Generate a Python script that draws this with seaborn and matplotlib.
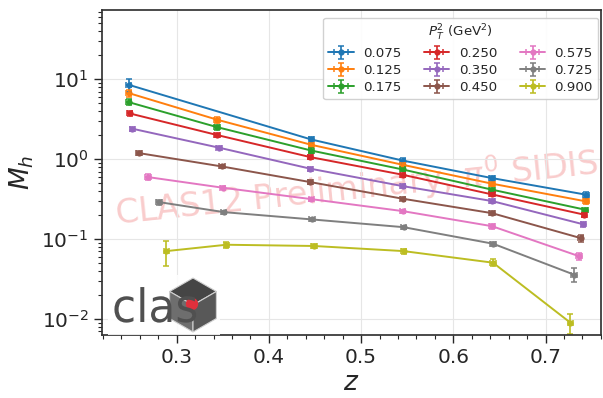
import numpy as np
import pandas as pd
import matplotlib
matplotlib.use("Agg")
import matplotlib.pyplot as plt
import seaborn as sns
from matplotlib.ticker import AutoMinorLocator
from matplotlib.container import ErrorbarContainer
from matplotlib.patches import Polygon, Circle, PathPatch
from matplotlib.textpath import TextPath
from matplotlib.font_manager import FontProperties
from matplotlib.transforms import Affine2D

# P_T^2 bins (GeV^2)
pt2_bins = ["0.075", "0.125", "0.175", "0.250", "0.350", "0.450", "0.575", "0.725", "0.900"]

# z bin centres for each P_T^2 bin
z_075 = [0.248, 0.446, 0.545, 0.642, 0.744]
z_125 = [0.248, 0.344, 0.446, 0.545, 0.642, 0.744]
z_175 = [0.248, 0.344, 0.446, 0.545, 0.642, 0.743]
z_250 = [0.249, 0.344, 0.445, 0.545, 0.642, 0.742]
z_350 = [0.252, 0.346, 0.445, 0.545, 0.642, 0.741]
z_450 = [0.259, 0.349, 0.445, 0.545, 0.642, 0.738]
z_575 = [0.269, 0.350, 0.446, 0.545, 0.642, 0.736]
z_725 = [0.281, 0.351, 0.447, 0.546, 0.643, 0.731]
z_900 = [0.289, 0.354, 0.449, 0.546, 0.643, 0.727]

# multiplicities M_h
m_075 = [8.5, 1.76, 0.96, 0.579, 0.359]
m_125 = [6.7, 3.11, 1.51, 0.85, 0.493, 0.296]
m_175 = [5.16, 2.51, 1.28, 0.743, 0.415, 0.233]
m_250 = [3.73, 2.0, 1.06, 0.638, 0.362, 0.202]
m_350 = [2.40, 1.39, 0.759, 0.46, 0.299, 0.153]
m_450 = [1.19, 0.81, 0.516, 0.32, 0.211, 0.103]
m_575 = [0.596, 0.439, 0.316, 0.224, 0.145, 0.0613]
m_725 = [0.29, 0.2175, 0.176, 0.141, 0.0876, 0.0359]
m_900 = [0.0708, 0.085, 0.082, 0.0708, 0.0507, 0.0090]

# uncertainties on M_h
e_075 = [1.6, 0.15, 0.08, 0.04, 0.03]
e_125 = [0.7, 0.25, 0.1, 0.05, 0.03, 0.02]
e_175 = [0.45, 0.18, 0.08, 0.04, 0.02, 0.015]
e_250 = [0.25, 0.12, 0.06, 0.035, 0.02, 0.012]
e_350 = [0.15, 0.07, 0.04, 0.03, 0.015, 0.012]
e_450 = [0.07, 0.04, 0.025, 0.015, 0.012, 0.01]
e_575 = [0.05, 0.02, 0.015, 0.01, 0.01, 0.006]
e_725 = [0.02, 0.01, 0.008, 0.006, 0.005, 0.007]
e_900 = [0.025, 0.007, 0.005, 0.005, 0.005, 0.0025]

z_err = 0.003

z_all = [z_075, z_125, z_175, z_250, z_350, z_450, z_575, z_725, z_900]
m_all = [m_075, m_125, m_175, m_250, m_350, m_450, m_575, m_725, m_900]
e_all = [e_075, e_125, e_175, e_250, e_350, e_450, e_575, e_725, e_900]

rows = []
for lab, zs, ms, es in zip(pt2_bins, z_all, m_all, e_all):
    for zv, mv, ev in zip(zs, ms, es):
        rows.append({"pt2": lab, "z": zv, "M": mv, "err": ev})
df = pd.DataFrame(rows)

sns.set_theme(style="ticks", rc={
    "axes.grid": True,
    "grid.color": "#e6e6e6",
    "grid.linewidth": 0.8,
    "axes.edgecolor": "#333333",
    "xtick.minor.visible": True,
})
plt.rcParams["font.family"] = ["DejaVu Sans"]
palette = sns.color_palette("tab10", len(pt2_bins))

fig = plt.figure(figsize=(6.03, 3.98), dpi=100)
ax = fig.add_axes([0.169, 0.158, 0.8275, 0.8166])

sns.lineplot(data=df, x="z", y="M", hue="pt2", hue_order=pt2_bins, palette=palette,
             marker="o", markersize=4.5, markeredgewidth=0, linewidth=1.4,
             estimator=None, sort=False, legend=False, ax=ax)

handles = []
for i, lab in enumerate(pt2_bins):
    sub = df[df["pt2"] == lab]
    cont = ax.errorbar(sub["z"], sub["M"], yerr=sub["err"], xerr=z_err, fmt="none",
                       ecolor=palette[i], elinewidth=1.2, capsize=2.5, capthick=1.1)
    line = ax.lines[i]
    handles.append(ErrorbarContainer((line, cont.lines[1], cont.lines[2]),
                                     has_xerr=True, has_yerr=True, label=lab))

ax.set_yscale("log")
ax.set_xlim(0.219, 0.760)
ax.set_ylim(6.3e-3, 73)
ax.xaxis.set_minor_locator(AutoMinorLocator(5))
ax.grid(True, which="major")
ax.grid(False, which="minor")
ax.tick_params(axis="both", which="major", labelsize=14.5, length=6, width=1)
ax.tick_params(axis="both", which="minor", length=3, width=0.8)
ax.set_xlabel("$z$", fontsize=19, labelpad=2)
ax.set_ylabel("$M_h$", fontsize=19, labelpad=4)

leg = ax.legend(handles=handles, labels=pt2_bins, ncol=3, loc="upper right",
                title="$P_T^2$ (GeV$^2$)", fontsize=9.6, title_fontsize=9.6,
                bbox_to_anchor=(1.0, 0.985), borderaxespad=0.2, framealpha=0.9,
                handlelength=1.9, columnspacing=1.7, labelspacing=0.3,
                handletextpad=0.7)

ax.text(0.511, 0.452, "CLAS12 Preliminary, $\\pi^0$ SIDIS", transform=ax.transAxes,
        fontsize=24, color="#f08080", alpha=0.4, rotation=6,
        ha="center", va="center", zorder=0)

# CLAS logo in the lower-left corner (units: pixels inside the inset)
lax = fig.add_axes([108 / 603, 63 / 398, 112 / 603, 60 / 398])
lax.set_xlim(0, 112)
lax.set_ylim(0, 60)
lax.set_aspect("equal")
lax.axis("off")
lax.add_patch(plt.Rectangle((0, 0), 112, 60, color="white", alpha=0.85, zorder=0))

cx, cy, r = 85, 30, 27
def vtx(deg):
    a = np.deg2rad(deg)
    return (cx + r * np.cos(a), cy + r * np.sin(a))
faces = [((30, 90, 150), "#454545"), ((150, 210, 270), "#6e6e6e"), ((270, 330, 30), "#585858")]
for angs, col in faces:
    lax.add_patch(Polygon([(cx, cy)] + [vtx(a) for a in angs], closed=True,
                          facecolor=col, edgecolor="#d0d0d0", linewidth=0.8, zorder=1))
lax.add_patch(Circle((84, 31), 5.5, color="#e0303c", zorder=3))

tp = TextPath((0, 0), "clas", size=1, prop=FontProperties(family="DejaVu Sans"))
tp = Affine2D().scale(44, 46).translate(4, 13).transform_path(tp)
lax.add_patch(PathPatch(tp, facecolor="#505050", edgecolor="none", zorder=4))

fig.savefig("out.png", dpi=100)
